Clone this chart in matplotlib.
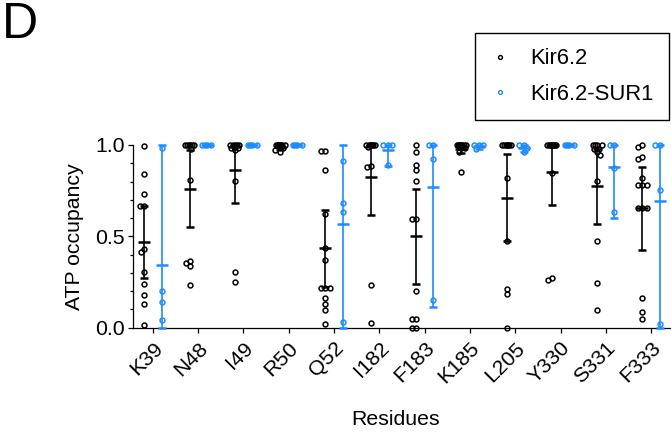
import numpy as np
import matplotlib
matplotlib.use("Agg")
import matplotlib.pyplot as plt
from matplotlib.lines import Line2D

plt.rcParams['font.family'] = ['Liberation Sans', 'DejaVu Sans']

# ---------------- data ----------------
residues = ['K39', 'N48', 'I49', 'R50', 'Q52', 'I182', 'F183', 'K185',
            'L205', 'Y330', 'S331', 'F333']

kir_K39 = [0.996, 0.839, 0.730, 0.668, 0.668, 0.428, 0.414, 0.304, 0.240, 0.178, 0.127, 0.014]
kir_N48 = [1.0, 1.0, 1.0, 1.0, 1.0, 1.0, 0.98, 0.808, 0.366, 0.355, 0.339, 0.233]
kir_I49 = [1.0, 1.0, 1.0, 1.0, 1.0, 0.99, 0.985, 0.985, 0.975, 0.803, 0.304, 0.247]
kir_R50 = [1.0, 1.0, 1.0, 1.0, 1.0, 1.0, 1.0, 1.0, 0.985, 0.985, 0.975, 0.96]
kir_Q52 = [0.967, 0.967, 0.863, 0.624, 0.434, 0.368, 0.216, 0.216, 0.216, 0.163, 0.131, 0.098, 0.017]
kir_I182 = [1.0, 1.0, 1.0, 1.0, 1.0, 1.0, 1.0, 0.99, 0.887, 0.878, 0.235, 0.026]
kir_F183 = [1.0, 0.963, 0.890, 0.863, 0.805, 0.593, 0.593, 0.202, 0.045, 0.045, 0.0, 0.0]
kir_K185 = [1.0, 1.0, 1.0, 1.0, 1.0, 1.0, 1.0, 1.0, 0.985, 0.985, 0.963, 0.854]
kir_L205 = [1.0, 1.0, 1.0, 1.0, 1.0, 1.0, 1.0, 0.817, 0.474, 0.209, 0.182, 0.0]
kir_Y330 = [1.0, 1.0, 1.0, 1.0, 1.0, 1.0, 1.0, 1.0, 1.0, 0.845, 0.269, 0.26]
kir_S331 = [1.0, 1.0, 1.0, 1.0, 0.98, 0.98, 0.963, 0.945, 0.805, 0.476, 0.242, 0.096]
kir_F333 = [1.0, 0.991, 0.932, 0.923, 0.821, 0.781, 0.781, 0.781, 0.653, 0.653, 0.653, 0.160, 0.083, 0.045]

sur_K39 = [0.982, 0.202, 0.142, 0.041]
sur_N48 = [1.0, 1.0, 1.0, 1.0]
sur_I49 = [1.0, 1.0, 1.0, 1.0]
sur_R50 = [1.0, 1.0, 1.0, 1.0]
sur_Q52 = [0.914, 0.680, 0.631, 0.028]
sur_I182 = [1.0, 1.0, 1.0, 0.892]
sur_F183 = [1.0, 1.0, 0.923, 0.151]
sur_K185 = [1.0, 1.0, 1.0, 0.98]
sur_L205 = [1.0, 1.0, 0.985, 0.96]
sur_Y330 = [1.0, 1.0, 1.0, 1.0]
sur_S331 = [1.0, 1.0, 0.872, 0.631]
sur_F333 = [1.0, 1.0, 0.753, 0.017]

kir_points = [kir_K39, kir_N48, kir_I49, kir_R50, kir_Q52, kir_I182,
              kir_F183, kir_K185, kir_L205, kir_Y330, kir_S331, kir_F333]
sur_points = [sur_K39, sur_N48, sur_I49, sur_R50, sur_Q52, sur_I182,
              sur_F183, sur_K185, sur_L205, sur_Y330, sur_S331, sur_F333]

# mean and 95% CI (clipped to axis range)
kir_mean = [0.467, 0.759, 0.861, 0.99, 0.434, 0.825, 0.500, 0.98, 0.708, 0.850, 0.774, 0.653]
kir_lo   = [0.269, 0.552, 0.682, 0.98, 0.220, 0.615, 0.238, 0.955, 0.474, 0.673, 0.569, 0.425]
kir_hi   = [0.668, 0.970, 1.000, 1.00, 0.642, 1.000, 0.761, 1.000, 0.951, 1.000, 0.980, 0.881]

sur_mean = [0.341, 1.0, 1.0, 1.0, 0.565, 0.975, 0.768, 0.995, 0.986, 1.0, 0.877, 0.695]
sur_lo   = [0.0, 1.0, 1.0, 1.0, 0.0, 0.887, 0.110, 0.980, 0.960, 1.0, 0.600, 0.0]
sur_hi   = [1.0, 1.0, 1.0, 1.0, 1.0, 1.000, 1.000, 1.000, 1.000, 1.0, 1.000, 1.0]

labels = ['Kir6.2', 'Kir6.2-SUR1']
colors = ['black', '#1E8CFF']

# ---------------- layout ----------------
W, H = 671, 434
fig = plt.figure(figsize=(W / 100, H / 100), dpi=100)
ax_l, ax_r, ax_b, ax_t = 133, 671, 327.5, 145
ax = fig.add_axes([ax_l / W, (H - ax_b) / H, (ax_r - ax_l) / W, (ax_b - ax_t) / H])
xmin, xmax = -0.44, 11.44
ax.set_xlim(xmin, xmax)
ax.set_ylim(0, 1.0)

px_x = (ax_r - ax_l) / (xmax - xmin)
px_y = (ax_b - ax_t) / 1.0


def swarm(values, d=4.4, max_w=5.0):
    placed = []
    cands = sorted(np.arange(-max_w, max_w + 0.001, 0.25), key=lambda t: (abs(t), t))
    for v in values:
        y = v * px_y
        best, best_score = 0.0, -1.0
        for c in cands:
            mind = min((np.hypot(c - px, y - py) for px, py in placed), default=np.inf)
            if mind >= d:
                best = c
                break
            if mind > best_score + 1e-9:
                best_score, best = mind, c
        placed.append((best, y))
    return np.array([p[0] for p in placed]) / px_x


offset = 0.19
fs = 15.3
series = [(kir_points, kir_mean, kir_lo, kir_hi, -offset, colors[0]),
          (sur_points, sur_mean, sur_lo, sur_hi, offset, colors[1])]

for pts, mean, lo, hi, off, col in series:
    for i, vals in enumerate(pts):
        xc = i + off
        dx = swarm(vals)
        ax.plot(xc + dx, vals, ls='none', marker='o', mfc='none', mec=col,
                ms=3.5, mew=1.1, clip_on=False, zorder=3)
        ax.errorbar([xc], [mean[i]], yerr=[[mean[i] - lo[i]], [hi[i] - mean[i]]],
                    fmt='_', color=col, ms=8.5, mew=1.8, elinewidth=1.2,
                    capsize=2.6, capthick=1.2, clip_on=False, zorder=4)

# axes styling
for s in ['top', 'right']:
    ax.spines[s].set_visible(False)
for s in ['left', 'bottom']:
    ax.spines[s].set_linewidth(0.9)
ax.set_yticks([0.0, 0.5, 1.0])
ax.set_yticklabels(['0.0', '0.5', '1.0'])
ax.set_yticks(np.arange(0, 1.01, 0.1), minor=True)
ax.set_xticks(range(len(residues)))
ax.set_xticklabels(residues, rotation=45, ha='right', rotation_mode='anchor')
ax.tick_params(axis='both', which='major', direction='out', length=3.8, width=0.9,
               labelsize=fs, pad=2)
ax.tick_params(axis='y', which='minor', direction='out', length=2.2, width=0.9)
ax.tick_params(axis='x', which='major', pad=4)

ax.set_ylabel('ATP occupancy', fontsize=fs)
ax.yaxis.set_label_coords((84 - ax_l) / (ax_r - ax_l), 0.5)
ax.set_xlabel('Residues', fontsize=fs)
ax.xaxis.set_label_coords((396 - ax_l) / (ax_r - ax_l), (ax_b - 410) / (ax_b - ax_t))

handles = [Line2D([], [], ls='none', marker='o', mfc='none', mec=c, ms=2.8, mew=1.0)
           for c in colors]
leg = ax.legend(handles, labels, loc='upper left',
                bbox_to_anchor=(475 / W, 1 - 33 / H), bbox_transform=fig.transFigure,
                frameon=True, fancybox=False, edgecolor='black', framealpha=1,
                borderaxespad=0, handlelength=0.9, handletextpad=0.9,
                borderpad=0.7, labelspacing=0.65, fontsize=15.8)
leg.get_frame().set_linewidth(1.0)

fig.text(2 / W, 1 - 2 / H, 'D', fontsize=36, ha='left', va='top')

fig.savefig('out.png', dpi=100)
